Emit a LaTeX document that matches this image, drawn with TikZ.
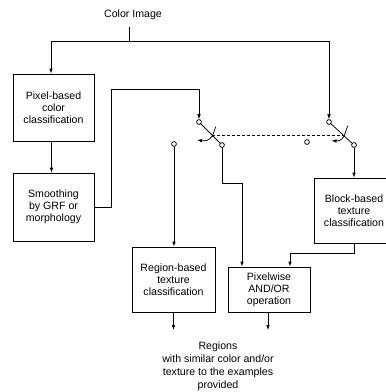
\documentclass[tikz,border=0pt]{standalone}
\usepackage{fontspec}
\setmainfont{Liberation Sans}
\usetikzlibrary{arrows.meta}
\begin{document}
\begin{tikzpicture}[x=1pt,y=-1pt,
  line width=0.75pt,
  txt/.style={align=center,inner sep=0pt,font=\fontsize{10.6}{12}\selectfont},
  box/.style={txt,draw},
  contact/.style={draw,circle,inner sep=0pt,minimum size=4.8pt},
  arr/.style={-{Latex[length=5pt,width=3.6pt]}},
  link/.style={dash pattern=on 3pt off 2pt}]
\useasboundingbox (0,0) rectangle (386,392);
\clip (0,0) rectangle (386,392);

% processing blocks
\node[txt] (title) at (133,15) {Color Image};
\node[box,minimum width=81pt,minimum height=67pt] (pix) at (53.5,107.5)
  {Pixel-based\\color\\classification};
\node[box,minimum width=81pt,minimum height=68pt] (smooth) at (53.5,207)
  {Smoothing\\by GRF or\\morphology};
\node[box,minimum width=83pt,minimum height=65pt] (region) at (173.5,279.5)
  {Region-based\\texture\\classification};
\node[box,minimum width=82pt,minimum height=45pt] (pixand) at (269,289.5)
  {Pixelwise\\AND/OR\\operation};
\node[box,minimum width=80pt,minimum height=65pt] (block) at (354,210.5)
  {Block-based\\texture\\classification};
\node[txt,font=\fontsize{10.6}{13}\selectfont] (result) at (218,366)
  {Regions\\with similar color and/or\\texture to the examples\\provided};

% switch contacts
\node[contact] (s1a) at (199,122) {};
\node[contact] (s1b) at (222,145) {};
\node[contact] (s1l) at (174,144) {};
\node[contact] (s2l) at (307,142) {};
\node[contact] (s2a) at (329,122) {};
\node[contact] (s2b) at (354,145) {};

% junction points
\coordinate (split) at (129,41);
\coordinate (up) at (111,89);
\coordinate (j1) at (242,183);
\coordinate (j2) at (290,253);
\coordinate (out1) at (173.5,330);
\coordinate (out2) at (268,330);

% input distribution
\draw ([yshift=-7pt]title.south -| split) -- (split);
\draw[arr] (split) -| ([xshift=-2.5pt]pix.north);
\draw[arr] (split) -| (s2a.north);
\draw[arr] ([xshift=-2pt]pix.south) -- ([xshift=-2pt]smooth.north);
\draw[arr] (smooth.east) -| (up) -| (s1a.north);

% ganged switches
\draw (s1a) -- (s1b);
\draw (212.3,136.7) -- (215.7,126.7);
\draw[arr] (212,136) .. controls (210,141) and (204,141) .. (197,140);
\draw (s2a) -- (s2b);
\draw (344.3,135.7) -- (347.7,125.7);
\draw[arr] (344,136) .. controls (342,141) and (337,141) .. (331.5,140.7);
\draw[link] (212,135) -- (343,135);

% switch outputs
\draw[arr] (s1l.south) -- (s1l.south |- region.north);
\draw[arr] (s1b.south) |- (j1) -- (j1 |- pixand.north);
\draw[arr] (s2b.south) -- (block.north);
\draw[arr] (block.south) |- (j2) -- (j2 |- pixand.north);

% results
\draw[arr] (region.south) -- (out1);
\draw[arr] ([xshift=-1pt]pixand.south) -- (out2);
\end{tikzpicture}
\end{document}
